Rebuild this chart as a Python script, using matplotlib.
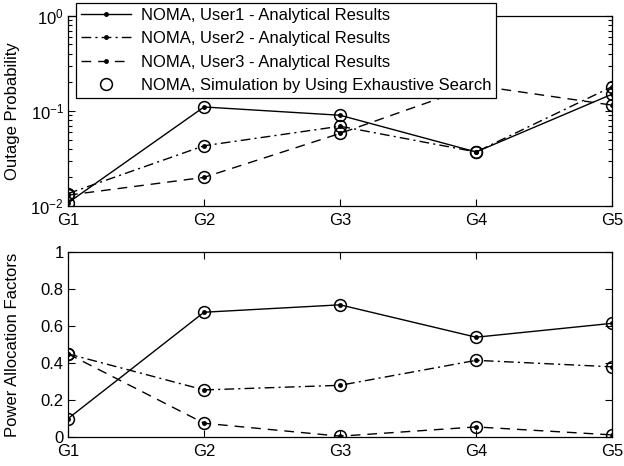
import numpy as np
import matplotlib
matplotlib.use('Agg')
import matplotlib.pyplot as plt
from matplotlib.ticker import LogLocator, NullFormatter

plt.rcParams['font.family'] = ['Liberation Sans', 'DejaVu Sans']
plt.rcParams['mathtext.fontset'] = 'custom'
plt.rcParams['mathtext.rm'] = 'Liberation Sans'
plt.rcParams['mathtext.it'] = 'Liberation Sans'

groups = ['G1', 'G2', 'G3', 'G4', 'G5']

# outage probability (analytical; simulation coincides)
outage_u1 = [0.0108, 0.110, 0.090, 0.037, 0.150]
outage_u2 = [0.0135, 0.043, 0.069, 0.037, 0.180]
outage_u3 = [0.0130, 0.020, 0.058, 0.185, 0.115]

# power allocation factors
power_u1 = [0.10, 0.675, 0.715, 0.54, 0.615]
power_u2 = [0.45, 0.255, 0.28, 0.415, 0.38]
power_u3 = [0.45, 0.075, 0.005, 0.055, 0.012]

labels = ['NOMA, User1 - Analytical Results',
          'NOMA, User2 - Analytical Results',
          'NOMA, User3 - Analytical Results',
          'NOMA, Simulation by Using Exhaustive Search']

styles = [dict(linestyle='-'),
          dict(linestyle=(0, (7, 3, 1.5, 3))),
          dict(linestyle=(0, (7, 5)))]

x = np.arange(1, len(groups) + 1)
fs = 12

fig = plt.figure(figsize=(6.24, 4.66), dpi=100)
ax1 = fig.add_axes([0.109, 0.558, 0.872, 0.408])
ax2 = fig.add_axes([0.109, 0.062, 0.872, 0.397])


def draw(ax, series):
    handles = []
    for vals, st in zip(series, styles):
        h, = ax.plot(x, vals, color='black', linewidth=1.0, marker='.',
                     markersize=5, **st)
        handles.append(h)
    for vals in series:
        c, = ax.plot(x, vals, linestyle='none', marker='o', markersize=8.5,
                     markerfacecolor='none', markeredgecolor='black',
                     markeredgewidth=1.1)
    handles.append(c)
    return handles


handles = draw(ax1, [outage_u1, outage_u2, outage_u3])
draw(ax2, [power_u1, power_u2, power_u3])

ax1.set_yscale('log')
ax1.set_ylim(1e-2, 1)
ax1.set_yticks([1e-2, 1e-1, 1])
ax1.yaxis.set_minor_locator(LogLocator(base=10, subs=np.arange(2, 10)))
ax1.yaxis.set_minor_formatter(NullFormatter())
ax1.set_ylabel('Outage Probability', fontsize=fs)

ax2.set_ylim(0, 1)
ax2.set_yticks([0, 0.2, 0.4, 0.6, 0.8, 1])
ax2.set_yticklabels(['0', '0.2', '0.4', '0.6', '0.8', '1'])
ax2.set_ylabel('Power Allocation Factors', fontsize=fs)

for ax in (ax1, ax2):
    ax.set_xlim(1, 5)
    ax.set_xticks(x)
    ax.set_xticklabels(groups)
    ax.tick_params(which='both', direction='in', top=True, right=True,
                   labelsize=fs, width=0.8)
    ax.tick_params(which='major', length=5, pad=3)
    ax.tick_params(axis='x', which='major', pad=5)
    ax.tick_params(which='minor', length=3)
    ax.yaxis.set_label_coords(-0.088, 0.5)
    for s in ax.spines.values():
        s.set_linewidth(0.9)

leg = ax1.legend(handles, labels, loc='upper left',
                 bbox_to_anchor=(0.014, 1.068), fontsize=fs,
                 fancybox=False, framealpha=1, edgecolor='black',
                 handlelength=3.0, labelspacing=0.5, borderpad=0.3,
                 handletextpad=0.6, borderaxespad=0)
leg.get_frame().set_linewidth(0.9)

fig.savefig('out.png', dpi=100)
